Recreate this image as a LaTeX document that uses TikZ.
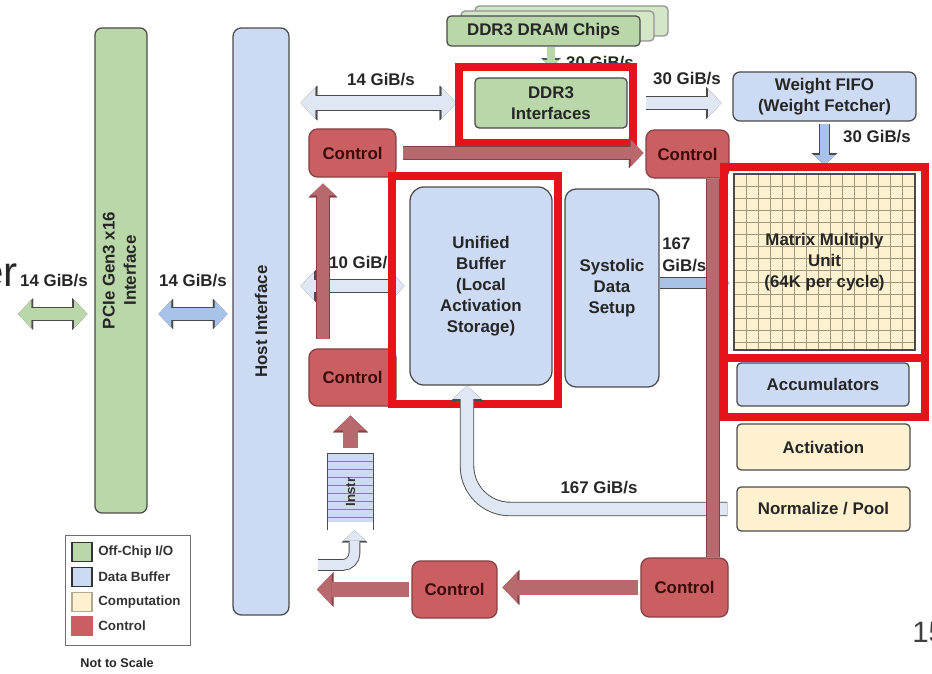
\documentclass[tikz,border=0pt]{standalone}
\usepackage{fontspec}
\setmainfont{Liberation Sans}
\usepackage{graphicx}
\usetikzlibrary{arrows.meta,calc}
\definecolor{offchip}{HTML}{B9D7A9}
\definecolor{offchipbk}{HTML}{D3E6C6}
\definecolor{buffer}{HTML}{CCDBF3}
\definecolor{compute}{HTML}{FDF1CF}
\definecolor{control}{HTML}{C95F60}
\definecolor{ctltext}{HTML}{3D0B0B}
\definecolor{ctlpipe}{HTML}{B8696E}
\definecolor{ctledge}{HTML}{874045}
\definecolor{pale}{HTML}{DFE7F4}
\definecolor{midblue}{HTML}{A7C3EA}
\definecolor{edge}{HTML}{4B4B4B}
\definecolor{redbox}{HTML}{E5141B}
\definecolor{mesh}{HTML}{9A9880}
\newcommand{\ctl}{Control}
\newcommand{\bw}[1]{#1~GiB/s}
\tikzset{
  unit/.style={draw=edge, line width=0.9pt, rounded corners=3pt, align=center,
    inner sep=0pt, text=black!85, font=\bfseries\fontsize{12}{15}\selectfont},
  io/.style={unit, fill=offchip},
  buf/.style={unit, fill=buffer},
  comp/.style={unit, fill=compute},
  ctl/.style={unit, fill=control, draw=ctledge, rounded corners=6pt, text=ctltext},
  rate/.style={inner sep=0pt, align=left, text=black!85,
    font=\bfseries\fontsize{12}{15.5}\selectfont},
  pipe/.style n args={3}{draw=#1, line width=#3,
    preaction={draw=#2, line width=#3+1.3pt}},
  redframe/.style={draw=redbox, line width=5pt},
  swatch/.style={draw=#1, line width=0.8pt, minimum width=0.5cm,
    minimum height=0.475cm, inner sep=0pt},
  keytext/.style={anchor=west, inner sep=0pt, text=black!80,
    font=\bfseries\fontsize{9.5}{11}\selectfont},
}
\begin{document}
\begin{tikzpicture}[x=0.025cm, y=-0.025cm,
    >={Triangle[length=0pt 1.05, width=0pt 2.2, line width=0.1pt]}]
    \useasboundingbox (0,0) rectangle (932,674);
    % host side
    \node[io, rounded corners=5pt, minimum width=1.3cm, minimum height=12.125cm] (pcie) at (121,270.5)
      {\rotatebox{90}{\begin{tabular}{@{}c@{}}PCIe Gen3 x16\\Interface\end{tabular}}};
    \node[buf, rounded corners=6pt, minimum width=1.4cm, minimum height=14.675cm] (host) at (261,321.5)
      {\rotatebox{90}{Host Interface}};
    % memory
    \node[io, fill=offchipbk, draw=edge!60, minimum width=4.825cm, minimum height=0.75cm] (chipsC) at (571.5,21) {};
    \node[io, fill=offchipbk, draw=edge!60, minimum width=4.825cm, minimum height=0.75cm] (chipsB) at (557.5,26) {};
    \node[io, minimum width=4.825cm, minimum height=0.75cm] (chips) at (543.5,31) {DDR3 DRAM Chips};
    \node[io, minimum width=3.8cm, minimum height=1.25cm] (ddr) at (551,103) {DDR3\\Interfaces};
    % weights and compute
    \node[buf, rounded corners=5pt, minimum width=4.575cm, minimum height=1.225cm] (wfifo) at (824.5,96.5)
      {Weight FIFO\\(Weight Fetcher)};
    \node[comp, rounded corners=0pt, minimum width=4.525cm, minimum height=4.4cm,
      path picture={
        \foreach \k in {1,...,14}{
          \draw[mesh, line width=0.4pt] ($(path picture bounding box.north west)+(12*\k,0)$)
            -- ($(path picture bounding box.south west)+(12*\k,0)$);
          \draw[mesh, line width=0.4pt] ($(path picture bounding box.north west)+(0,12*\k)$)
            -- ($(path picture bounding box.north east)+(0,12*\k)$);
        }}] (mmu) at (824.5,262) {Matrix Multiply\\Unit\\(64K per cycle)};
    \node[buf, minimum width=4.3cm, minimum height=1.075cm] (acc) at (823,384.5) {Accumulators};
    \node[comp, minimum width=4.325cm, minimum height=1.15cm] (act) at (823.5,447) {Activation};
    \node[comp, minimum width=4.325cm, minimum height=1.1cm] (pool) at (823.5,509) {Normalize / Pool};
    % buffers
    \node[buf, rounded corners=10pt, minimum width=3.55cm, minimum height=4.95cm] (ub) at (481,286)
      {Unified\\Buffer\\(Local\\Activation\\Storage)};
    \node[buf, rounded corners=8pt, minimum width=2.35cm, minimum height=4.95cm] (sds) at (612,288)
      {Systolic\\Data\\Setup};
    % control
    \node[ctl, minimum width=2.175cm, minimum height=1.2cm] (ctlA) at (352.5,153) {\ctl};
    \node[ctl, minimum width=2.075cm, minimum height=1.2cm] (ctlB) at (687.5,154) {\ctl};
    \node[ctl, minimum width=2.175cm, minimum height=1.425cm] (ctlC) at (352.5,377.5) {\ctl};
    \node[ctl, minimum width=2.125cm, minimum height=1.425cm] (ctlD) at (454.5,589.5) {\ctl};
    \node[ctl, minimum width=2.175cm, minimum height=1.475cm] (ctlE) at (684.5,587.5) {\ctl};
    % instruction fifo
    \node[minimum width=1.125cm, minimum height=1.9cm, inner sep=0pt] (instr) at (350.5,492) {};
    \fill[buffer] (instr.north west) rectangle ($(instr.south east)+(0,-8)$);
    \draw[edge, line width=0.7pt] (instr.south west) -- (instr.north west) -- (instr.north east) -- (instr.south east);
    \foreach \k in {1,...,8}
      \draw[edge!70, line width=0.5pt] ($(instr.north west)+(0,8*\k)$) -- ($(instr.north east)+(0,8*\k)$);
    \node[rotate=90, inner sep=0pt, text=black!80, font=\bfseries\fontsize{9.5}{10}\selectfont] (instrtxt) at (instr) {Instr};
    % data paths
    \coordinate (ext) at (18,314);
    \coordinate (lvl) at (0,314);
    \coordinate (mid) at (0,283);
    \draw[pipe={offchip}{edge}{9pt}, <->, shorten >=0.175cm] (ext) -- (pcie.west |- lvl);
    \draw[pipe={midblue}{edge}{8.5pt}, <->, shorten <=0.275cm, shorten >=0.125cm] (pcie.east |- lvl) -- (host.west |- lvl);
    \draw[pipe={pale}{edge}{10pt}, <->, shorten <=0.275cm, shorten >=0.45cm] (host.east |- ddr.west) -- (ddr.west);
    \draw[pipe={pale}{edge}{9pt}, <->, shorten <=0.275cm, shorten >=0.125cm] (host.east |- ub.west) -- (ub.west);
    \draw[pipe={pale}{edge}{9pt}, ->, shorten <=0.45cm, shorten >=0.275cm] (ddr.east) -- (wfifo.west |- ddr.east);
    \draw[pipe={midblue}{edge}{7pt}, ->, shorten <=0.05cm, shorten >=0.2cm] (wfifo.south) -- (mmu.north);
    \draw[pipe={offchip}{edge}{5pt}, ->, shorten >=0.25cm] (chips.south -| ddr.north) -- (ddr.north);
    \draw[pipe={midblue}{edge}{7.5pt}, ->, shorten >=0.1cm] (sds.east |- mid) -- (mmu.west |- mid);
    \coordinate (feed) at (318,565);
    \draw[pipe={pale}{edge}{7pt}, ->, rounded corners=0.3cm] (feed) -| ($(instr.south)+(4,0)$);
    % rates
    \node[rate] (r1) at (54,281) {\bw{14}};
    \node[rate] (r2) at (193,281) {\bw{14}};
    \node[rate] (r3) at (381,80) {\bw{14}};
    \node[rate] (r4) at (600,63) {\bw{30}};
    \node[rate] (r5) at (687,79) {\bw{30}};
    \node[rate] (r6) at (877,137) {\bw{30}};
    \node[rate] (r7) at (363,263) {\bw{10}};
    \node[rate, anchor=west] (r8) at (662,255) {167\\GiB/s};
    \node[rate] (r9) at (599,488) {\bw{167}};
    % highlights
    \draw[redframe] (459,67) rectangle (633,143);
    \draw[redframe] (392,176) rectangle (558,404);
    \draw[redframe] (724,167) rectangle (925,417);
    \draw[redframe] (724,358) -- (925,358);
    % result path back to buffer
    \draw[pipe={pale}{edge}{9pt}, ->, rounded corners=1.075cm, shorten <=0.225cm] (pool.west) -| ($(ub.south)+(-14,0)$);
    % control paths
    \coordinate (riser) at (323,0);
    \coordinate (spine) at (713,0);
    \coordinate (out) at (317,589.5);
    \draw[pipe={ctlpipe}{ctledge}{8.5pt}, ->, shorten <=0.15cm, shorten >=0.05cm] (ctlA.east) -- (ctlB.west |- ctlA.east);
    \draw[pipe={ctlpipe}{ctledge}{8pt}, ->, shorten <=0.225cm, shorten >=0.15cm] (ctlC.north -| riser) -- (ctlA.south -| riser);
    \draw[pipe={ctlpipe}{ctledge}{10pt}, ->, shorten <=0.15cm, shorten >=0.225cm] (instr.north) -- (instr.north |- ctlC.south);
    \draw[pipe={ctlpipe}{ctledge}{8.5pt}] (ctlB.south -| spine) -- (ctlE.north -| spine);
    \draw[pipe={ctlpipe}{ctledge}{10pt}, ->, shorten <=0.05cm, shorten >=0.125cm] (ctlE.west) -- (ctlD.east |- ctlE.west);
    \draw[pipe={ctlpipe}{ctledge}{10pt}, ->, shorten <=0.05cm] (ctlD.west) -- (out);
    % legend
    \node[draw=edge!80, line width=0.6pt, minimum width=3.125cm, minimum height=2.75cm] (legend) at (127.5,590) {};
    \node[swatch=black!80, fill=offchip] (k1) at (82,552) {};
    \node[keytext] (k1t) at (98,552) {Off-Chip I/O};
    \node[swatch=black!80, fill=buffer] (k2) at (82,577) {};
    \node[keytext] (k2t) at (98,577) {Data Buffer};
    \node[swatch=compute!70!black, fill=compute] (k3) at (82,602) {};
    \node[keytext] (k3t) at (98,602) {Computation};
    \node[swatch=control, fill=control] (k4) at (82,626) {};
    \node[keytext] (k4t) at (98,626) {Control};
    \node[inner sep=0pt, text=black!85, font=\bfseries\fontsize{9}{10}\selectfont] (scale) at (117,663) {Not to Scale};
    % slide remnants
    \node[anchor=base east, inner sep=0pt, text=black!85, font=\fontsize{30}{30}\selectfont] (cut) at (18,287) {er};
    \node[anchor=base west, inner sep=0pt, text=black!75, font=\fontsize{21}{21}\selectfont] (page) at (912,642) {15};
\end{tikzpicture}
\end{document}
